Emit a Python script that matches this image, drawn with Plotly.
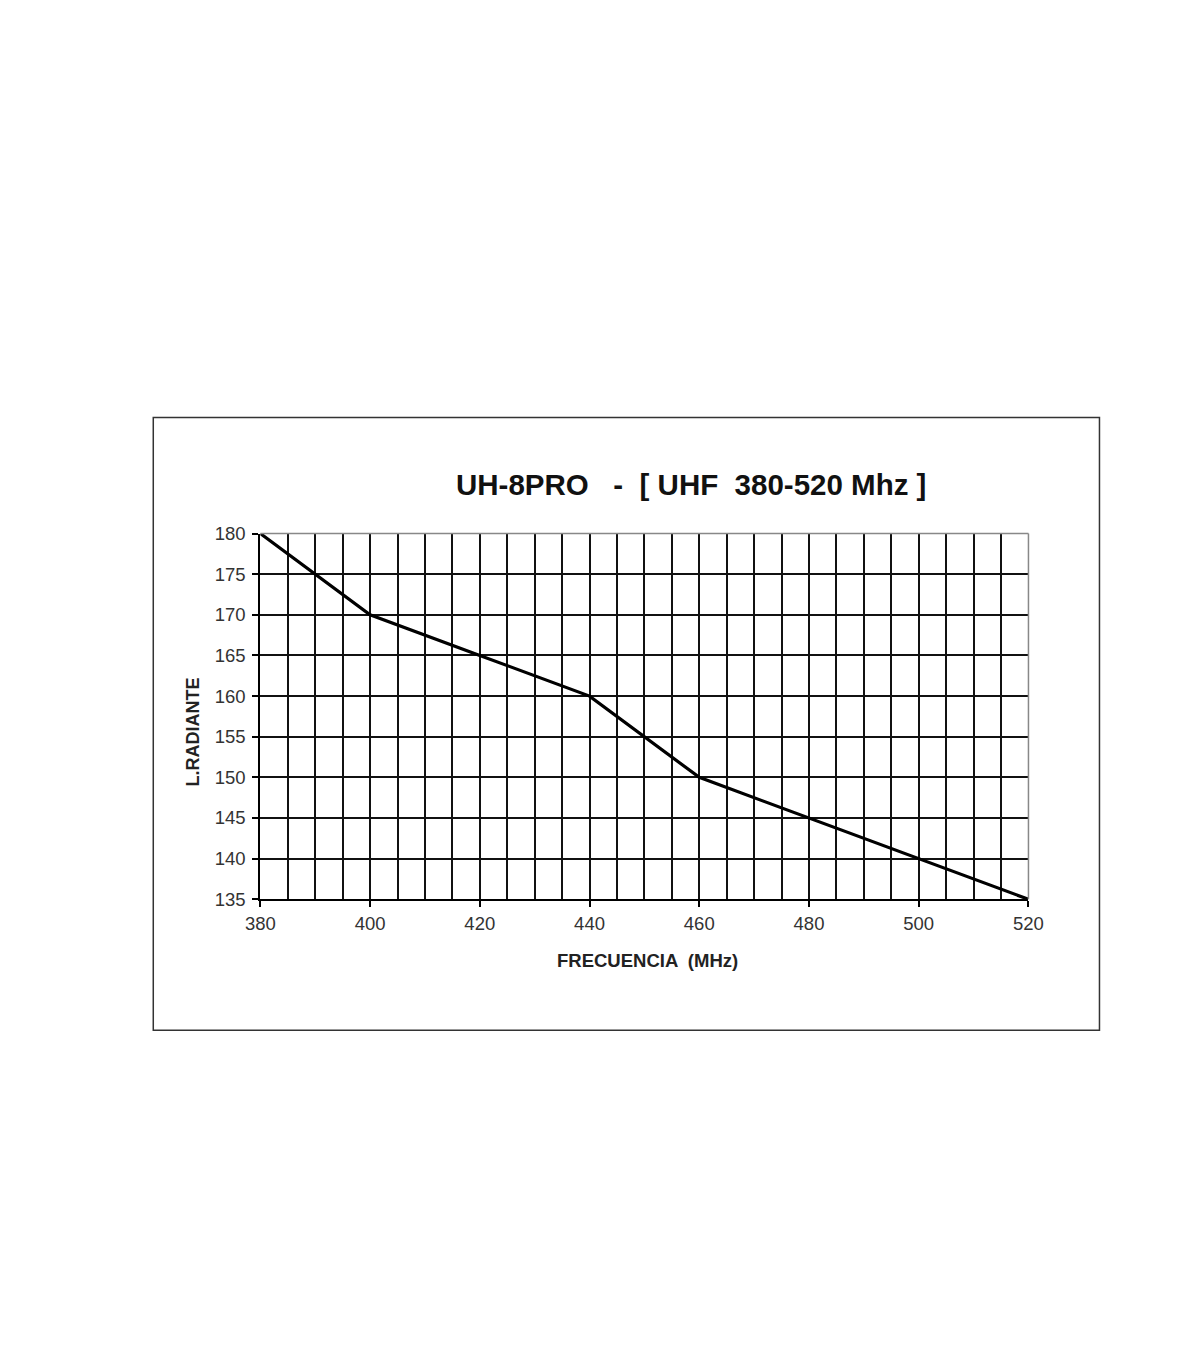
import plotly.graph_objects as go

freq = [380, 400, 420, 440, 460, 480, 500, 520]
length = [180, 170, 165, 160, 150, 145, 140, 135]

title_text = "UH-8PRO   -  [ UHF  380-520 Mhz ]"
x_title = "FRECUENCIA  (MHz)"
y_title = "L.RADIANTE"

W, H = 1200, 1372
# calibration of page pixels -> paper fractions
px = lambda v: (v - 20.2) / 1174.7
py = lambda v: 1 - (v - 14.8) / 1356.4

fig = go.Figure()
fig.add_trace(go.Scatter(x=freq, y=length, mode="lines",
                         line=dict(color="black", width=3.2),
                         cliponaxis=False, showlegend=False, hoverinfo="skip"))

font = "Liberation Sans, Arial, sans-serif"
fig.update_layout(
    width=W, height=H, margin=dict(l=0, r=0, t=0, b=0),
    paper_bgcolor="white", plot_bgcolor="white",
    font=dict(family=font, color="#333333", size=18.5),
    xaxis=dict(domain=[px(258.5), px(1029.7)], range=[380, 520], dtick=20, tick0=380,
               showgrid=True, gridcolor="#111111", gridwidth=1.6,
               minor=dict(dtick=5, tick0=380, showgrid=True, gridcolor="#111111", gridwidth=1.6),
               showline=True, linecolor="black", linewidth=2,
               ticks="outside", ticklen=6, tickcolor="black", tickwidth=2,
               zeroline=False, fixedrange=True, ticklabelstandoff=1),
    yaxis=dict(domain=[py(898.6), py(531.4)], range=[135, 180], dtick=5, tick0=135,
               showgrid=True, gridcolor="#111111", gridwidth=1.6,
               showline=True, linecolor="black", linewidth=2,
               ticks="outside", ticklen=6, tickcolor="black", tickwidth=2,
               zeroline=False, fixedrange=True, ticklabelstandoff=3),
    shapes=[
        dict(type="rect", xref="paper", yref="paper", x0=px(151), x1=px(1101),
             y0=py(1030), y1=py(415), line=dict(color="#333333", width=1.5), layer="below"),
        dict(type="line", xref="paper", yref="paper", x0=px(258.5), x1=px(1029.7),
             y0=py(531.4), y1=py(531.4), line=dict(color="#888888", width=1.5)),
        dict(type="line", xref="paper", yref="paper", x0=px(1029.7), x1=px(1029.7),
             y0=py(898.6), y1=py(531.4), line=dict(color="#888888", width=1.5)),
    ],
    annotations=[
        dict(text="<b>" + title_text + "</b>", xref="paper", yref="paper",
             x=px(691), y=py(482), showarrow=False, xanchor="center", yanchor="middle",
             font=dict(size=29.5, color="#111111", family=font)),
        dict(text="<b>" + x_title + "</b>", xref="paper", yref="paper",
             x=px(647), y=py(960), showarrow=False, xanchor="center", yanchor="middle",
             font=dict(size=18.5, color="#222222", family=font)),
        dict(text="<b>" + y_title + "</b>", xref="paper", yref="paper",
             x=px(191), y=py(731), showarrow=False, xanchor="center", yanchor="middle",
             textangle=-90, font=dict(size=18, color="#222222", family=font)),
    ],
)

fig.write_html("out.html")
